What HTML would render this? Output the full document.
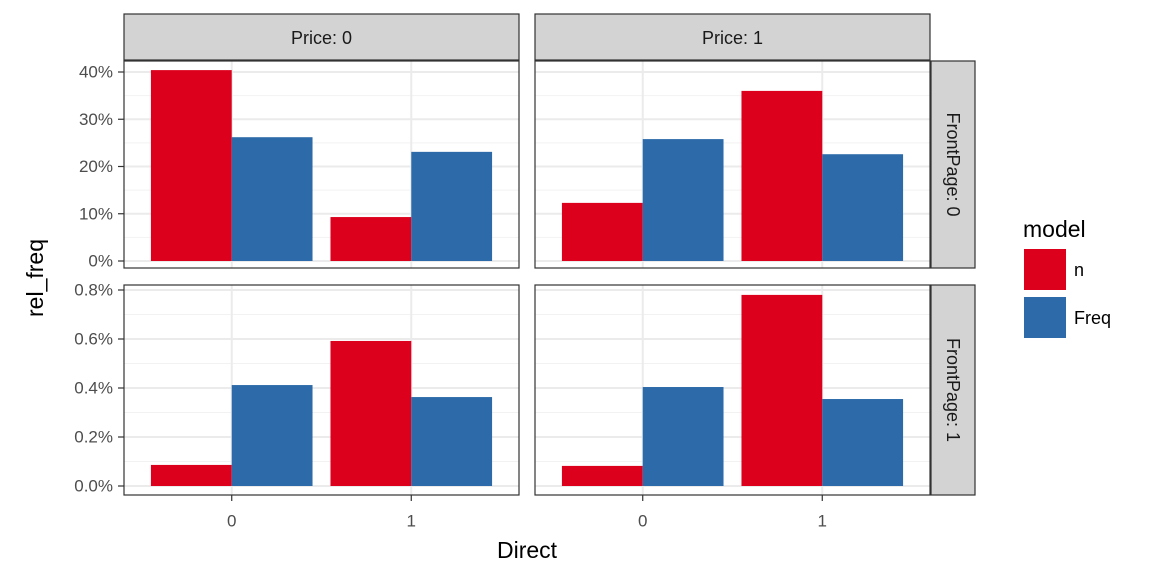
<!DOCTYPE html>
<html><head><meta charset="utf-8"><style>body{margin:0;background:#fff}svg{display:block}text{font-family:"Liberation Sans",Arial,sans-serif}</style></head>
<body>
<svg id="chart" width="1152" height="576"></svg>
<script>
const categories = ["0", "1"];
const priceFacets = ["Price: 0", "Price: 1"];
const frontFacets = ["FrontPage: 0", "FrontPage: 1"];
const seriesNames = ["n", "Freq"];
// values [price][direct]
const nTop = [[40.4, 9.3], [12.3, 36.0]];
const freqTop = [[26.2, 23.1], [25.8, 22.6]];
const nBottom = [[0.086, 0.592], [0.082, 0.78]];
const freqBottom = [[0.412, 0.363], [0.404, 0.355]];
const topTicks = [0, 10, 20, 30, 40];
const topTickLabels = ["0%", "10%", "20%", "30%", "40%"];
const bottomTicks = [0, 0.2, 0.4, 0.6, 0.8];
const bottomTickLabels = ["0.0%", "0.2%", "0.4%", "0.6%", "0.8%"];

const NS = "http://www.w3.org/2000/svg";
const svg = document.getElementById("chart");
function el(tag, attrs, parent) {
  const e = document.createElementNS(NS, tag);
  for (const k in attrs) e.setAttribute(k, attrs[k]);
  (parent || svg).appendChild(e);
  return e;
}
const colors = ["#dc001c", "#2c6aa9"];
const panelX = [124, 535], panelW = 395;
const rows = [
  {y0: 61, y1: 268, zeroY: 261, unit: 189 / 40, mid: 5, ticks: topTicks, labels: topTickLabels, n: nTop, f: freqTop},
  {y0: 285, y1: 495, zeroY: 486, unit: 196 / 0.8, mid: 0.1, ticks: bottomTicks, labels: bottomTickLabels, n: nBottom, f: freqBottom}
];
const pxUnit = panelW / 2.2;
function xPos(pi, ci) { return panelX[pi] + (0.6 + ci) * pxUnit; }

rows.forEach((r, ri) => {
  const yS = v => r.zeroY - v * r.unit;
  panelX.forEach((px, pi) => {
    const g = el("g", {});
    
    
    el("rect", {x: px, y: r.y0, width: panelW, height: r.y1 - r.y0, fill: "#fff"}, g);
    r.ticks.forEach((t, i) => {
      const m = t + r.mid, y = yS(m);
      if (y > r.y0) el("line", {x1: px, x2: px + panelW, y1: y, y2: y, stroke: "#f2f2f2", "stroke-width": 1}, g);
    });
    const ymin = yS(-r.mid); if (ymin < r.y1) el("line", {x1: px, x2: px + panelW, y1: ymin, y2: ymin, stroke: "#f2f2f2"}, g);
    r.ticks.forEach(t => { const y = yS(t); el("line", {x1: px, x2: px + panelW, y1: y, y2: y, stroke: "#ebebeb", "stroke-width": 2}, g); });
    categories.forEach((c, ci) => { const x = xPos(pi, ci); el("line", {x1: x, x2: x, y1: r.y0, y2: r.y1, stroke: "#ebebeb", "stroke-width": 2}, g); });
    categories.forEach((c, ci) => {
      const x = xPos(pi, ci), bw = 0.45 * pxUnit;
      [r.n, r.f].forEach((arr, si) => {
        const v = arr[pi][ci];
        const b = el("rect", {x: x - bw + si * bw, y: yS(v), width: bw, height: r.zeroY - yS(v), fill: colors[si]}, g);
        
        
      });
    });
    el("rect", {x: px, y: r.y0, width: panelW, height: r.y1 - r.y0, fill: "none", stroke: "#333", "stroke-width": 1.2}, g);
    if (pi === 1) {
      const s = el("rect", {x: 931, y: r.y0, width: 44, height: r.y1 - r.y0, fill: "#d3d3d3", stroke: "#333", "stroke-width": 1.2});
      
      
      const cy = (r.y0 + r.y1) / 2;
      const t = el("text", {x: 953, y: cy, transform: "rotate(90 953 " + cy + ")", "text-anchor": "middle", "dominant-baseline": "central", "font-size": 18, fill: "#1a1a1a"});
      t.textContent = frontFacets[ri];
      
      
    }
  });
  r.ticks.forEach((t, i) => {
    const y = yS(t);
    el("line", {x1: 118, x2: 124, y1: y, y2: y, stroke: "#333", "stroke-width": 1.2});
    const tx = el("text", {x: 113, y: y, "text-anchor": "end", "dominant-baseline": "central", "font-size": 17, fill: "#4d4d4d"});
    tx.textContent = r.labels[i];
    
    
  });
});
panelX.forEach((px, pi) => {
  const s = el("rect", {x: px, y: 14, width: panelW, height: 46, fill: "#d3d3d3", stroke: "#333", "stroke-width": 1.2});
  
  
  const t = el("text", {x: px + panelW / 2, y: 38, "text-anchor": "middle", "dominant-baseline": "central", "font-size": 18, fill: "#1a1a1a"});
  t.textContent = priceFacets[pi];
  
  
  categories.forEach((c, ci) => {
    const x = xPos(pi, ci);
    el("line", {x1: x, x2: x, y1: 495, y2: 501, stroke: "#333", "stroke-width": 1.2});
    const tx = el("text", {x: x, y: 521, "text-anchor": "middle", "dominant-baseline": "central", "font-size": 17, fill: "#4d4d4d"});
    tx.textContent = c;
    
    
  });
});
const xt = el("text", {x: 527, y: 550, "text-anchor": "middle", "dominant-baseline": "central", "font-size": 23, fill: "#000"});
xt.textContent = "Direct";


const yt = el("text", {x: 35, y: 278, transform: "rotate(-90 35 278)", "text-anchor": "middle", "dominant-baseline": "central", "font-size": 23, fill: "#000"});
yt.textContent = "rel_freq";


const lg = el("g", {});


const lt = el("text", {x: 1023, y: 229, "dominant-baseline": "central", "font-size": 23, fill: "#000"}, lg);
lt.textContent = "model";


seriesNames.forEach((s, i) => {
  const y = 249 + i * 48;
  const k = el("rect", {x: 1024, y: y, width: 42, height: 41, fill: colors[i]}, lg);
  
  
  const t = el("text", {x: 1074, y: y + 21, "dominant-baseline": "central", "font-size": 18, fill: "#000"}, lg);
  t.textContent = s;
  
  
});
</script>
</body></html>
